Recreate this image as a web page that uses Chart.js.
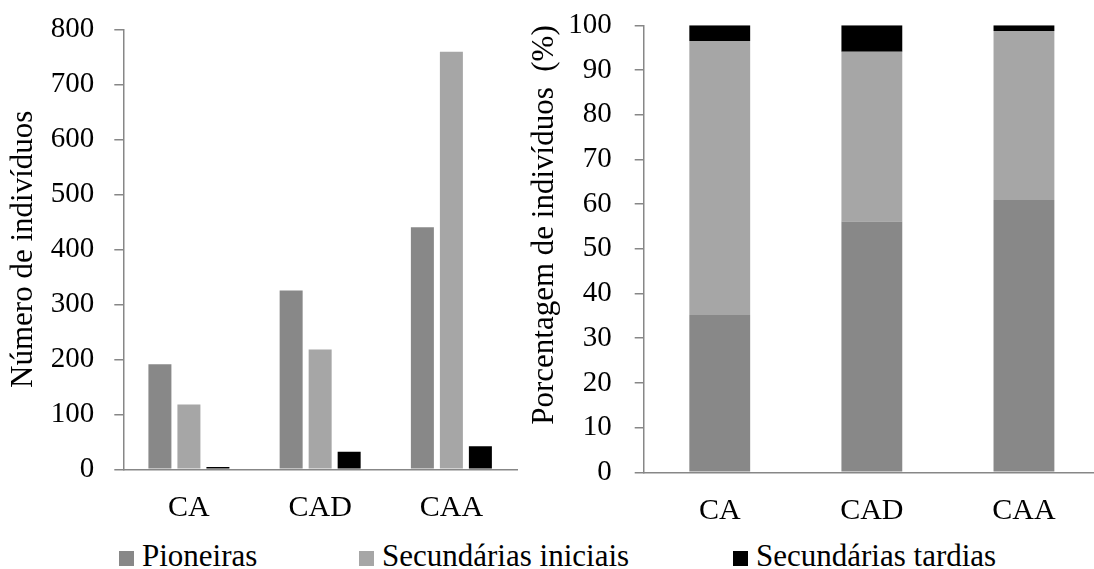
<!DOCTYPE html>
<html>
<head>
<meta charset="utf-8">
<script src="https://cdn.jsdelivr.net/npm/chart.js@4/dist/chart.umd.min.js"></script>
<style>
  html, body { margin: 0; padding: 0; background: #fff; overflow: hidden; }
  #wrap { position: relative; width: 1094px; height: 569px; overflow: hidden; }
  #left { position: absolute; left: 0; top: 0; }
  #right { position: absolute; left: 520px; top: 0; }
  .box { position: absolute; top: 551px; width: 15px; height: 15px; }
  .lbl { position: absolute; top: 540px; font: 31px/31px 'Liberation Serif', 'Times New Roman', serif; color: #000; white-space: nowrap; }
</style>
</head>
<body>
<div id="wrap">
  <canvas id="left" width="540" height="530"></canvas>
  <canvas id="right" width="580" height="530"></canvas>
  <div id="legend"></div>
</div>
<script>
// categorias e séries
const categories = ['CA', 'CAD', 'CAA'];
const seriesNames = ['Pioneiras', 'Secundárias iniciais', 'Secundárias tardias'];

// número de indivíduos (gráfico da esquerda)
const pioneirasN = [191, 325, 440];
const iniciaisN = [118, 218, 759];
const tardiasN = [4, 32, 42];

// porcentagem de indivíduos (gráfico da direita)
const pioneirasPct = [35.2, 56.1, 60.9];
const iniciaisPct = [61.3, 38.0, 37.8];
const tardiasPct = [3.5, 5.9, 1.3];

const colors = ['#888888', '#a6a6a6', '#000000'];
const axisColor = '#878787';

Chart.defaults.font.family = "'Liberation Serif', 'Times New Roman', serif";
Chart.defaults.color = '#000';

const commonPlugins = { legend: { display: false }, tooltip: { enabled: false } };

// fixa a largura do eixo y e tira o espaço extra dos rótulos
function fixY(width) {
  return s => { s.width = width; s.paddingTop = 0; s.paddingBottom = 0; };
}

// gráfico da esquerda: barras agrupadas
new Chart(document.getElementById('left'), {
  type: 'bar',
  data: {
    labels: categories,
    datasets: [
      { label: seriesNames[0], data: pioneirasN, backgroundColor: colors[0] },
      { label: seriesNames[1], data: iniciaisN, backgroundColor: colors[1] },
      { label: seriesNames[2], data: tardiasN, backgroundColor: colors[2] }
    ]
  },
  options: {
    responsive: false,
    animation: false,
    layout: { padding: { top: 29.3, right: 23, left: 0, bottom: 0 } },
    datasets: { bar: { categoryPercentage: 0.663, barPercentage: 0.793 } },
    plugins: commonPlugins,
    scales: {
      x: {
        grid: { display: false },
        border: { display: true, color: axisColor, width: 1.5 },
        ticks: { padding: 13, font: { size: 30 }, color: '#000' },
        afterFit: s => { s.height = 530 - 469.3; }
      },
      y: {
        min: 0,
        max: 800,
        ticks: { stepSize: 100, padding: 20, font: { size: 29 }, color: '#000' },
        grid: { drawOnChartArea: false, tickLength: 9, color: axisColor, tickColor: axisColor, lineWidth: 1.5, tickWidth: 1.5 },
        border: { color: axisColor, width: 1.5 },
        title: { display: true, text: 'Número de indivíduos', font: { size: 31 }, color: '#000', padding: { top: 5, bottom: 0 } },
        afterFit: fixY(123.3)
      }
    }
  }
});

// gráfico da direita: barras empilhadas (%)
new Chart(document.getElementById('right'), {
  type: 'bar',
  data: {
    labels: categories,
    datasets: [
      { label: seriesNames[0], data: pioneirasPct, backgroundColor: colors[0] },
      { label: seriesNames[1], data: iniciaisPct, backgroundColor: colors[1] },
      { label: seriesNames[2], data: tardiasPct, backgroundColor: colors[2] }
    ]
  },
  options: {
    responsive: false,
    animation: false,
    layout: { padding: { top: 25.3, right: 0, left: 0, bottom: 0 } },
    datasets: { bar: { categoryPercentage: 1, barPercentage: 0.4 } },
    plugins: commonPlugins,
    scales: {
      x: {
        stacked: true,
        grid: { display: false },
        border: { display: true, color: axisColor, width: 1.5 },
        ticks: { padding: 13, font: { size: 30 }, color: '#000' },
        afterFit: s => { s.height = 530 - 472.3; }
      },
      y: {
        stacked: true,
        min: 0,
        max: 100,
        ticks: { stepSize: 10, padding: 23, font: { size: 29 }, color: '#000' },
        grid: { drawOnChartArea: false, tickLength: 9, color: axisColor, tickColor: axisColor, lineWidth: 1.5, tickWidth: 1.5 },
        border: { color: axisColor, width: 1.5 },
        title: { display: true, text: 'Porcentagem de indivíduos  (%)', align: 'end', font: { size: 31 }, color: '#000', padding: { top: 6, bottom: 0 } },
        afterFit: fixY(123.7)
      }
    }
  }
});

// legenda comum, embaixo
const legendX = [119, 359, 733];
const legend = document.getElementById('legend');
seriesNames.forEach((name, i) => {
  const box = document.createElement('div');
  box.className = 'box';
  box.style.left = legendX[i] + 'px';
  box.style.background = colors[i];
  legend.appendChild(box);
  const lbl = document.createElement('div');
  lbl.className = 'lbl';
  lbl.style.left = (legendX[i] + 23) + 'px';
  lbl.textContent = name;
  legend.appendChild(lbl);
});
</script>
</body>
</html>
